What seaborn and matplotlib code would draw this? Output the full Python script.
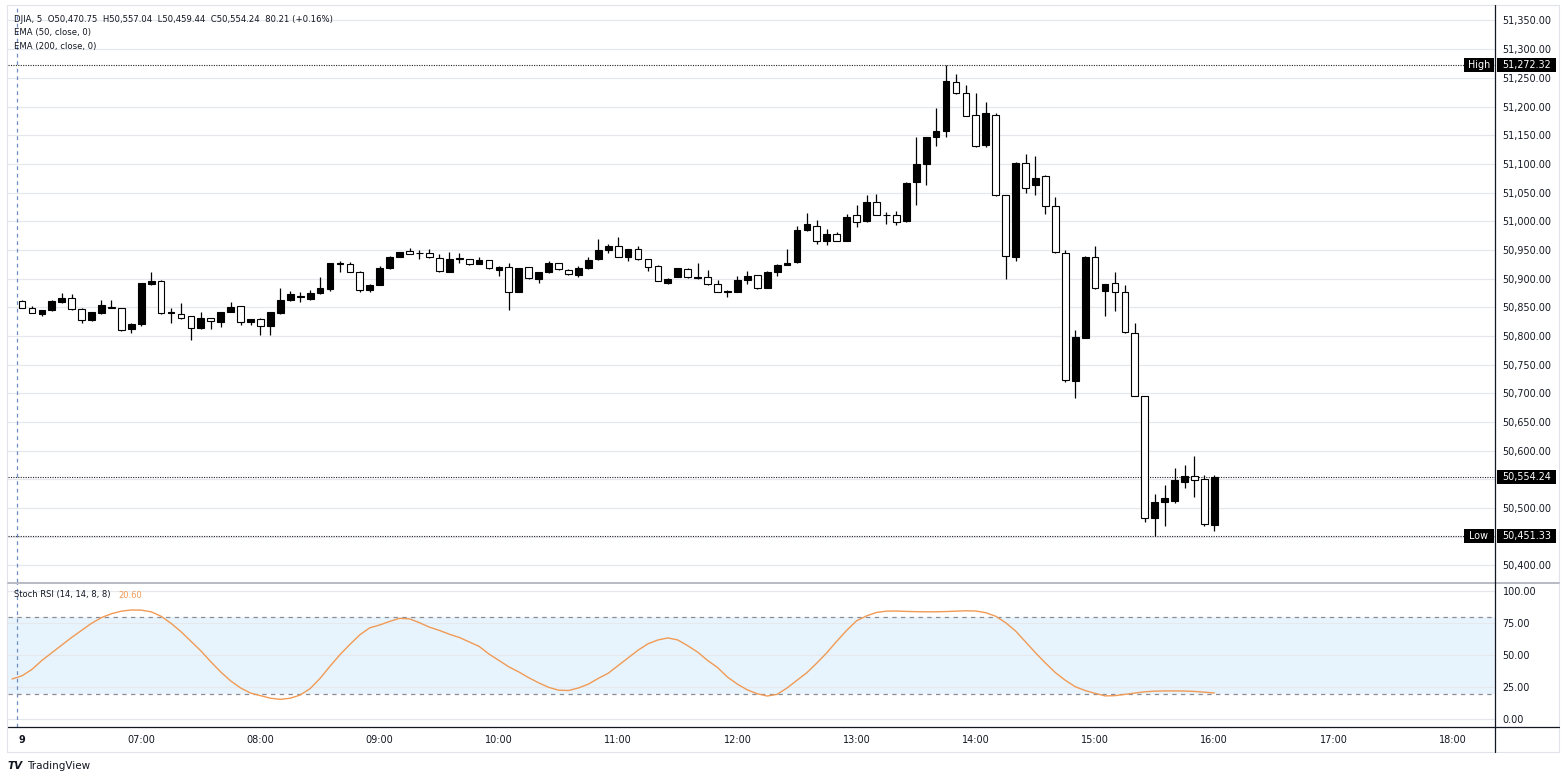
import numpy as np
import pandas as pd
import matplotlib
matplotlib.use("Agg")
import matplotlib.pyplot as plt
import matplotlib.transforms as mtransforms
from matplotlib.patches import Rectangle
from matplotlib.lines import Line2D
import seaborn as sns

# ---------------- data ----------------
opens = [50861, 50849, 50838, 50845, 50859, 50867, 50847, 50828, 50840, 50851,
         50848, 50812, 50820, 50890, 50896, 50840, 50838, 50834, 50813, 50831,
         50825, 50842, 50852, 50824, 50830, 50817, 50840, 50862, 50868, 50864,
         50875, 50882, 50925, 50925, 50912, 50880, 50889, 50918, 50938, 50948,
         50944, 50944, 50936, 50912, 50934, 50934, 50926, 50932, 50915, 50920,
         50877, 50920, 50900, 50911, 50927, 50915, 50906, 50919, 50934, 50950,
         50956, 50937, 50951, 50934, 50922, 50893, 50903, 50917, 50901, 50902,
         50890, 50877, 50877, 50898, 50906, 50884, 50912, 50924, 50929, 50984,
         50992, 50966, 50978, 50966, 51010, 51000, 51033, 51010, 51010, 51000,
         51068, 51099, 51146, 51157, 51243, 51224, 51185, 51133, 51185, 51045,
         50938, 51102, 51063, 51078, 51026, 50945, 50722, 50797, 50938, 50879,
         50892, 50876, 50805, 50695, 50482, 50511, 50513, 50546, 50556, 50550,
         50470.75]
highs = [50863, 50853, 50846, 50862, 50875, 50873, 50848, 50841, 50862, 50862,
         50849, 50822, 50893, 50912, 50897, 50848, 50858, 50835, 50841, 50832,
         50842, 50859, 50853, 50830, 50831, 50841, 50883, 50879, 50877, 50880,
         50902, 50928, 50930, 50929, 50913, 50890, 50922, 50940, 50947, 50953,
         50949, 50951, 50943, 50946, 50944, 50935, 50938, 50933, 50922, 50928,
         50919, 50921, 50911, 50930, 50928, 50916, 50922, 50937, 50969, 50961,
         50972, 50952, 50956, 50935, 50923, 50901, 50919, 50918, 50927, 50915,
         50897, 50880, 50904, 50914, 50907, 50913, 50925, 50951, 50991, 51015,
         51002, 50986, 50981, 51013, 51029, 51046, 51047, 51016, 51017, 51068,
         51146, 51147, 51197, 51272.32, 51257, 51237, 51224, 51208, 51188, 51046,
         51103, 51117, 51113, 51080, 51043, 50950, 50811, 50939, 50957, 50891,
         50911, 50889, 50822, 50696, 50524, 50540, 50570, 50575, 50590, 50558,
         50557.04]
lows = [50849, 50840, 50835, 50844, 50858, 50846, 50822, 50826, 50839, 50848,
        50809, 50805, 50818, 50888, 50839, 50822, 50830, 50793, 50812, 50812,
        50815, 50841, 50819, 50819, 50802, 50802, 50838, 50861, 50859, 50863,
        50874, 50879, 50912, 50912, 50876, 50877, 50888, 50917, 50937, 50942,
        50934, 50936, 50912, 50911, 50927, 50924, 50925, 50917, 50905, 50846,
        50876, 50900, 50893, 50910, 50915, 50907, 50903, 50916, 50933, 50945,
        50937, 50931, 50933, 50914, 50895, 50891, 50902, 50901, 50900, 50889,
        50876, 50868, 50876, 50891, 50882, 50883, 50905, 50923, 50928, 50983,
        50960, 50959, 50965, 50965, 50990, 50999, 51010, 50995, 50993, 50999,
        51028, 51063, 51132, 51147, 51222, 51183, 51130, 51130, 51044, 50899,
        50931, 51050, 51045, 51012, 50945, 50720, 50691, 50796, 50882, 50835,
        50843, 50806, 50695, 50475, 50451.33, 50468, 50509, 50535, 50520, 50469,
        50459.44]
closes = [50849, 50840, 50845, 50861, 50867, 50847, 50827, 50841, 50854, 50848,
          50811, 50821, 50893, 50896, 50840, 50841, 50831, 50813, 50831, 50826,
          50841, 50851, 50825, 50830, 50817, 50841, 50862, 50873, 50869, 50875,
          50884, 50927, 50926, 50912, 50880, 50889, 50918, 50937, 50946, 50943,
          50945, 50937, 50913, 50935, 50935, 50925, 50933, 50918, 50921, 50877,
          50918, 50901, 50911, 50927, 50916, 50908, 50919, 50933, 50950, 50957,
          50938, 50951, 50934, 50921, 50896, 50900, 50918, 50902, 50902.5, 50890,
          50877, 50878, 50898, 50905, 50883, 50912, 50924, 50928, 50985, 50995,
          50966, 50978, 50966, 51007, 50999, 51033, 51011, 51011, 50999, 51067,
          51100, 51146, 51158, 51245, 51223, 51184, 51132, 51189, 51045, 50939,
          51102, 51058, 51076, 51026, 50946, 50723, 50799, 50938, 50883, 50890,
          50876, 50807, 50696, 50482, 50511, 50517, 50548, 50556, 50548, 50472,
          50554.24]

stoch_bars = list(range(-1, 121))
stoch_k = [31.5, 34, 39, 46, 52, 58, 64, 69.5, 75, 79.5,
           82.5, 84.5, 85.4, 85.3, 84, 80.5, 75, 68.5, 61, 53.5,
           45, 37, 30, 24.5, 20.5, 18.5, 16.5, 15.6, 16.5, 19,
           24, 32, 41.5, 50.5, 58.5, 66, 71.5, 73.7, 76.5, 78.9,
           78.5, 75.5, 72, 69.5, 66.5, 64, 60.5, 57, 51, 46,
           41, 37, 32.5, 28.5, 25, 22.8, 22.5, 24.5, 27.5, 32,
           36, 42, 48, 54, 59, 62, 63.6, 62, 57.5, 52.5,
           46, 40.5, 33, 27.5, 23, 20, 18.2, 19.5, 24.5, 30.5,
           36.5, 44, 52, 61, 69.5, 77, 80.8, 83.5, 84.5, 84.6,
           84.3, 84.1, 84, 84, 84.2, 84.5, 84.8, 84.6, 83.3, 80.5,
           75.5, 69, 60.5, 52, 44, 36.5, 30.5, 25.5, 22.5, 20.3,
           18.3, 18.5, 19.5, 20.5, 21.5, 22, 22.2, 22.2, 22.1, 21.8,
           21.2, 20.6]

hour_ticks = [0, 12, 24, 36, 48, 60, 72, 84, 96, 108, 120, 132, 144]
hour_labels = ["9", "07:00", "08:00", "09:00", "10:00", "11:00", "12:00",
               "13:00", "14:00", "15:00", "16:00", "17:00", "18:00"]
price_ticks = [50400, 50450, 50500, 50550, 50600, 50650, 50700, 50750, 50800,
               50850, 50900, 50950, 51000, 51050, 51100, 51150, 51200, 51250,
               51300, 51350]
price_labels = ["50,400.00", "50,450.00", "50,500.00", "50,550.00", "50,600.00",
                "50,650.00", "50,700.00", "50,750.00", "50,800.00", "50,850.00",
                "50,900.00", "50,950.00", "51,000.00", "51,050.00", "51,100.00",
                "51,150.00", "51,200.00", "51,250.00", "51,300.00", "51,350.00"]
hidden_price_labels = ["50,450.00", "50,550.00"]
stoch_ticks = [0, 25, 50, 75, 100]
stoch_labels = ["0.00", "25.00", "50.00", "75.00", "100.00"]
high_value, low_value, last_value = 51272.32, 50451.33, 50554.24
legend_main = "DJIA, 5  O50,470.75  H50,557.04  L50,459.44  C50,554.24  80.21 (+0.16%)"
legend_ema1 = "EMA (50, close, 0)"
legend_ema2 = "EMA (200, close, 0)"
stoch_title = "Stoch RSI (14, 14, 8, 8)"
stoch_last = "20.60"

# ---------------- style ----------------
sns.set_theme(style="white")
plt.rcParams['font.family'] = ['DejaVu Sans']
TXT = '#131722'
GRID = '#e6e8ee'
ORANGE = '#F09A55'

W, H = 1568, 780
fig = plt.figure(figsize=(W / 100, H / 100), dpi=100)
fig.patch.set_facecolor('white')

def fx(px):
    return px / W

def fy(py):
    return 1 - py / H

L, R = 8, 1495
ax = fig.add_axes([fx(L), fy(582), fx(R - L), (582 - 5) / H])
ax2 = fig.add_axes([fx(L), fy(727), fx(R - L), (727 - 583) / H], sharex=ax)

# ---------------- candles ----------------
df = pd.DataFrame(dict(bar=np.arange(len(opens)), open=opens, high=highs,
                       low=lows, close=closes))
df['up'] = df['close'] >= df['open']
df['bottom'] = df[['open', 'close']].min(axis=1)
df['height'] = (df['close'] - df['open']).abs().clip(lower=1.4)

ax.vlines(df['bar'], df['low'], df['high'], color='black', lw=0.9, zorder=2)
up = df[df['up']]
dn = df[~df['up']]
ax.bar(up['bar'], up['height'], bottom=up['bottom'], width=0.68,
       color='black', edgecolor='black', linewidth=0.8, zorder=3)
ax.bar(dn['bar'], dn['height'], bottom=dn['bottom'], width=0.68,
       color='white', edgecolor='black', linewidth=0.8, zorder=3)

ax.set_xlim(-1.41, 148.25)
ax.set_ylim(50371, 51377)
ax.set_yticks(price_ticks)
ax.set_yticklabels([t if t not in hidden_price_labels else "" for t in price_labels])
ax.yaxis.tick_right()
ax.tick_params(axis='y', length=0, pad=5.5, labelsize=6.9, labelcolor=TXT)
ax.tick_params(axis='x', length=0, labelbottom=False)
ax.grid(axis='y', color=GRID, lw=0.9)
ax.grid(axis='x', visible=False)
for s in ax.spines.values():
    s.set_visible(False)
ax.set_xlabel("")
ax.set_ylabel("")

# high / low / last dotted lines
for v in (high_value, last_value, low_value):
    ax.axhline(v, color='#222222', lw=0.8, ls=(0, (1, 1.2)), zorder=1)

# session break
for a in (ax, ax2):
    a.axvline(-0.47, color='#6f8fc4', lw=0.9, ls=(0, (3, 3)), zorder=1)

# label boxes on price axis
blend = mtransforms.blended_transform_factory(ax.transAxes, ax.transData)
axw = R - L
px_per_price = 577 / (51377 - 50371)

def axis_box(v, text):
    hgt = 14 / px_per_price
    ax.add_patch(Rectangle((1 + 2 / axw, v - hgt / 2), 59 / axw, hgt, transform=blend,
                           facecolor='black', edgecolor='none', clip_on=False, zorder=10))
    ax.text(1 + 31.5 / axw, v, text, transform=blend, ha='center', va='center',
            color='white', fontsize=6.9, zorder=11, clip_on=False)

def side_box(v, text):
    hgt = 14 / px_per_price
    ax.add_patch(Rectangle((1 - 31 / axw, v - hgt / 2), 30 / axw, hgt, transform=blend,
                           facecolor='black', edgecolor='none', clip_on=False, zorder=10))
    ax.text(1 - 16 / axw, v, text, transform=blend, ha='center', va='center',
            color='white', fontsize=6.9, zorder=11)

axis_box(high_value, f"{high_value:,.2f}")
axis_box(last_value, f"{last_value:,.2f}")
axis_box(low_value, f"{low_value:,.2f}")
side_box(high_value, "High")
side_box(low_value, "Low")

# ---------------- stoch RSI ----------------
sdf = pd.DataFrame(dict(bar=stoch_bars, k=stoch_k))
ax2.axhspan(20, 80, color=(33 / 255, 150 / 255, 243 / 255, 0.1), lw=0, zorder=0)
for v in (20, 80):
    ax2.axhline(v, color='#8a8d96', lw=0.9, ls=(0, (3.5, 3.5)), zorder=1)
sns.lineplot(data=sdf, x='bar', y='k', ax=ax2, color=ORANGE, lw=1.0, zorder=4)
ax2.set_ylim(-6.0, 106.5)
ax2.set_yticks(stoch_ticks)
ax2.set_yticklabels(stoch_labels)
ax2.yaxis.tick_right()
ax2.tick_params(axis='y', length=0, pad=5.5, labelsize=6.9, labelcolor=TXT)
ax2.grid(axis='y', color=GRID, lw=0.9)
ax2.grid(axis='x', visible=False)
ax2.set_xticks(hour_ticks)
ax2.set_xticklabels(hour_labels)
ax2.tick_params(axis='x', length=0, pad=6, labelsize=7, labelcolor=TXT)
ax2.get_xticklabels()[0].set_fontweight('bold')
for s in ax2.spines.values():
    s.set_visible(False)
ax2.set_xlabel("")
ax2.set_ylabel("")
ax2.set_xlim(-1.41, 148.25)

# ---------------- frame lines ----------------
def fline(x0, y0, x1, y1, color, lw):
    fig.add_artist(Line2D([fx(x0), fx(x1)], [fy(y0), fy(y1)], transform=fig.transFigure,
                          color=color, lw=lw, zorder=20))

fline(7, 5, 1559, 5, '#e0e3eb', 0.8)
fline(7, 5, 7, 752, '#e0e3eb', 0.8)
fline(1559, 5, 1559, 752, '#e0e3eb', 0.8)
fline(7, 752, 1559, 752, '#e0e3eb', 0.8)
fline(8, 582.5, 1559, 582.5, '#b8bbc4', 1.4)
fline(8, 727, 1559, 727, '#131722', 0.9)
fline(1495, 5, 1495, 752, '#131722', 0.9)

# ---------------- legend texts ----------------
fig.text(fx(14), fy(19), legend_main, fontsize=6.1, color=TXT, va='center', ha='left')
fig.text(fx(14), fy(33), legend_ema1, fontsize=6.1, color=TXT, va='center', ha='left')
fig.text(fx(14), fy(46), legend_ema2, fontsize=6.1, color=TXT, va='center', ha='left')
fig.text(fx(14), fy(595), stoch_title, fontsize=6.0, color=TXT, va='center', ha='left')
fig.text(fx(118), fy(595), stoch_last, fontsize=6.0, color=ORANGE, va='center', ha='left')

# TradingView logo
fig.text(fx(8), fy(766), "TV", fontsize=7.5, color=TXT, va='center', ha='left',
         fontweight='bold', style='italic')
fig.text(fx(27), fy(766), "TradingView", fontsize=7.5, color=TXT, va='center', ha='left')

fig.savefig('out.png', dpi=100, facecolor='white')
